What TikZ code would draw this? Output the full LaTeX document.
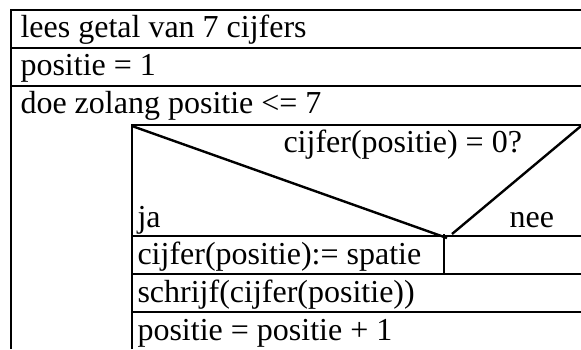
\documentclass[tikz,border=0pt]{standalone}
\usepackage{fontspec}
\setmainfont{Liberation Serif}
\usetikzlibrary{calc}

\begin{document}
\begin{tikzpicture}[x=0.375pt,y=-0.375pt,
    rule/.style={line width=0.9pt},
    txt/.style={anchor=base west,inner sep=0pt,font=\fontsize{12}{14}\selectfont}]
	\clip (0,0) rectangle (581,349);
    % frame and the three top rows
    \draw [rule] (581,10) -- (11,10) -- (11,349);
    \draw [rule] (11,48) -- (581,48);
    \draw [rule] (11,86) -- (581,86);
    % loop body
    \draw [rule] (132,349) -- (132,125) -- (581,125);
    % decision
    \coordinate (tl) at (132,126);
    \coordinate (tr) at (581,126);
    \coordinate (apexL) at (447,238);
    \coordinate (apexR) at (452,234);
    \draw [rule] (tl) -- (apexL);
    \draw [rule] (apexR) -- (tr);
    \draw [rule] (132,236) -- (581,236);
    \draw [rule] (444,234) -- (444,274);
    \draw [rule] (132,274) -- (581,274);
    \draw [rule] (132,312) -- (581,312);
    % texts
    \node[txt] (lees) at (20,37) {lees getal van 7 cijfers};
    \node[txt] (init) at (20,75) {positie = 1};
    \node[txt] (loop) at (20,113) {doe zolang positie <= 7};
    \node[txt] (cond) at (283,152) {cijfer(positie) = 0?};
    \node[txt] (ja) at (137,227) {ja};
    \node[txt] (nee) at (509,227) {nee};
    \node[txt] (spatie) at (137,264) {cijfer(positie):= spatie};
    \node[txt] (schrijf) at (137,302) {schrijf(cijfer(positie))};
    \node[txt] (ophogen) at (137,340) {positie = positie + 1};
\end{tikzpicture}
\end{document}
